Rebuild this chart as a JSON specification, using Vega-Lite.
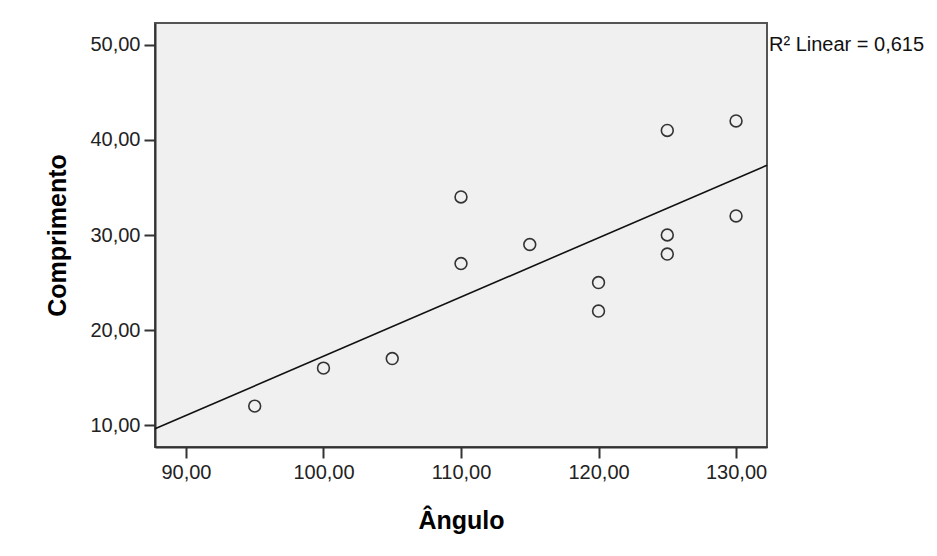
{
  "$schema": "https://vega.github.io/schema/vega-lite/v6.json",
  "width": 612,
  "height": 424,
  "autosize": {"type": "none"},
  "padding": {"left": 155, "top": 23, "right": 170, "bottom": 109},
  "background": "white",
  "config": {
    "locale": {"number": {"decimal": ",", "thousands": ".", "grouping": [3], "currency": ["", ""]}},
    "view": {"fill": "#f0f0f0", "stroke": "#555555", "strokeWidth": 2},
    "font": "Liberation Sans",
    "axis": {
      "grid": false,
      "domainColor": "#333333",
      "domainWidth": 2,
      "tickColor": "#333333",
      "tickWidth": 2,
      "tickSize": 11,
      "labelFont": "Liberation Sans",
      "labelFontSize": 20,
      "labelColor": "#222222",
      "labelPadding": 4,
      "titleFont": "Liberation Sans",
      "titleFontSize": 25,
      "titleFontWeight": "bold",
      "titleColor": "#000000"
    }
  },
  "data": {
    "values": [
      {"Angulo": 95, "Comprimento": 12},
      {"Angulo": 100, "Comprimento": 16},
      {"Angulo": 105, "Comprimento": 17},
      {"Angulo": 110, "Comprimento": 34},
      {"Angulo": 110, "Comprimento": 27},
      {"Angulo": 115, "Comprimento": 29},
      {"Angulo": 120, "Comprimento": 25},
      {"Angulo": 120, "Comprimento": 22},
      {"Angulo": 125, "Comprimento": 41},
      {"Angulo": 125, "Comprimento": 30},
      {"Angulo": 125, "Comprimento": 28},
      {"Angulo": 130, "Comprimento": 42},
      {"Angulo": 130, "Comprimento": 32}
    ]
  },
  "layer": [
    {
      "mark": {"type": "point", "shape": "circle", "filled": false, "stroke": "#333333", "strokeWidth": 1.6, "size": 140, "opacity": 1},
      "encoding": {
        "x": {
          "field": "Angulo", "type": "quantitative", "title": "Ângulo",
          "scale": {"domain": [87.75, 132.25], "nice": false, "zero": false},
          "axis": {"values": [90, 100, 110, 120, 130], "format": ".2f", "titlePadding": 26}
        },
        "y": {
          "field": "Comprimento", "type": "quantitative", "title": "Comprimento",
          "scale": {"domain": [7.7, 52.3], "nice": false, "zero": false},
          "axis": {"values": [10, 20, 30, 40, 50], "format": ".2f", "titlePadding": 19}
        }
      }
    },
    {
      "transform": [
        {"regression": "Comprimento", "on": "Angulo", "extent": [87.75, 132.25]}
      ],
      "mark": {"type": "line", "color": "#111111", "strokeWidth": 1.6},
      "encoding": {
        "x": {"field": "Angulo", "type": "quantitative"},
        "y": {"field": "Comprimento", "type": "quantitative"}
      }
    },
    {
      "data": {"values": [{"label": "R² Linear = 0,615", "ax": 132.25, "ay": 49.35}]},
      "mark": {"type": "text", "align": "left", "baseline": "alphabetic", "dx": 2, "fontSize": 20, "font": "Liberation Sans", "color": "#111111"},
      "encoding": {
        "x": {"field": "ax", "type": "quantitative"},
        "y": {"field": "ay", "type": "quantitative"},
        "text": {"field": "label"}
      }
    }
  ]
}
